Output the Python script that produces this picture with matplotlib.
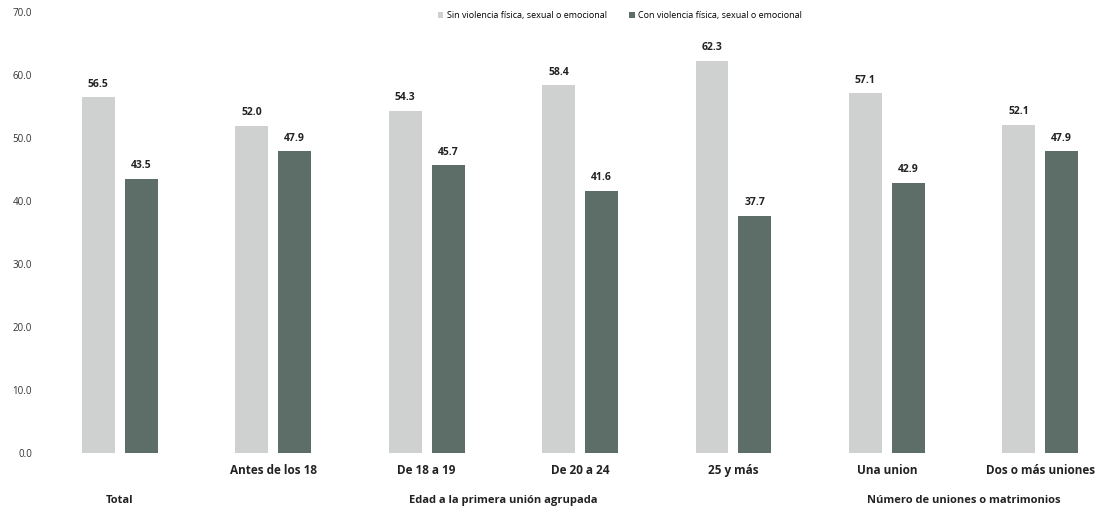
import matplotlib
matplotlib.use('Agg')
import matplotlib.pyplot as plt
import numpy as np

# data
categories = ['Total', 'Antes de los 18', 'De 18 a 19', 'De 20 a 24', '25 y más',
              'Una union', 'Dos o más uniones']
sin_violencia = [56.5, 52.0, 54.3, 58.4, 62.3, 57.1, 52.1]
con_violencia = [43.5, 47.9, 45.7, 41.6, 37.7, 42.9, 47.9]
series_names = ['Sin violencia física, sexual o emocional',
                'Con violencia física, sexual o emocional']
groups = ['Total', 'Edad a la primera unión agrupada', 'Número de uniones o matrimonios']
group_spans = [(0, 0), (1, 4), (5, 6)]

plt.rcParams['font.family'] = ['Open Sans', 'DejaVu Sans']

fig = plt.figure(figsize=(11.05, 5.07), dpi=100)
ax = fig.add_axes([0.039, 0.1065, 0.958, 0.8695])

x = np.arange(len(categories))
w = 0.215
light = '#cfd1d0'
dark = '#5d6e68'
b1 = ax.bar(x - 0.14, sin_violencia, w, color=light, label=series_names[0])
b2 = ax.bar(x + 0.14, con_violencia, w, color=dark, label=series_names[1])

for bars, vals in ((b1, sin_violencia), (b2, con_violencia)):
    for r, v in zip(bars, vals):
        ax.text(r.get_x() + r.get_width() / 2, v + 1.2, f'{v:.1f}',
                ha='center', va='bottom', fontsize=7.5, fontweight='bold', color='#222222')

ax.set_xlim(-0.5, 6.4)
ax.set_ylim(0, 70)
ax.set_yticks(range(0, 71, 10))
ax.set_yticklabels([f'{t:.1f}' for t in range(0, 71, 10)], fontsize=7, color='#333333')
ax.tick_params(axis='y', length=0, pad=8)
ax.set_xticks([])
for s in ax.spines.values():
    s.set_visible(False)

# category labels (Total sits on the group row)
for i, c in enumerate(categories):
    if i == 0:
        continue
    ax.text(i, -1.7, c, ha='center', va='top', fontsize=8.5, fontweight='bold',
            color='#222222', clip_on=False)
for g, (a, b) in zip(groups, group_spans):
    ax.text((a + b) / 2, -6.6, g, ha='center', va='top', fontsize=8, fontweight='bold',
            color='#222222', clip_on=False)

ax.legend(loc='upper center', bbox_to_anchor=(0.545, 1.02), ncol=2, frameon=False,
          fontsize=6.5, handlelength=0.6, handleheight=0.6, columnspacing=2.5,
          handletextpad=0.4)

plt.savefig('out.png', dpi=100)
